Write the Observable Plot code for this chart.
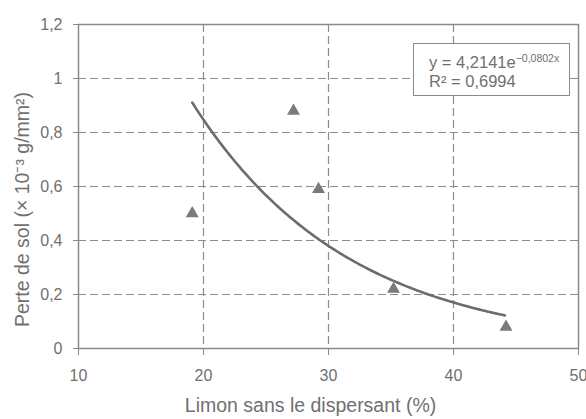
<!DOCTYPE html>
<html>
<head>
<meta charset="utf-8">
<script src="https://cdn.jsdelivr.net/npm/d3@7"></script>
<script src="https://cdn.jsdelivr.net/npm/@observablehq/plot@0.6"></script>
<style>
  html, body { margin: 0; padding: 0; background: #fff; }
  #chart { position: relative; width: 586px; height: 419px; font-family: "Liberation Sans", Arial, sans-serif; }
  #eq {
    position: absolute; left: 413px; top: 43px; width: 157px; height: 53px;
    border: 1.5px solid #8a8a8a; background: #fff; color: #707070;
    font-size: 16.5px; line-height: 19px; padding: 9px 0 0 15px; box-sizing: border-box;
  }
  #eq sup { font-size: 10.5px; vertical-align: 6px; line-height: 0; }
</style>
</head>
<body>
<div id="chart"></div>
<script>
// Silt without dispersant (%) and measured soil loss (×10⁻³ g/mm²)
const limon = [19.1, 27.2, 29.2, 35.2, 44.2];
const perte = [0.50, 0.88, 0.59, 0.22, 0.08];

// Exponential trend y = a·e^(b·x), as given by the equation label
const fitA = 4.2141;
const fitB = -0.0802;
const r2 = 0.6994;

const xTicks = [10, 20, 30, 40, 50];
const yTicks = [0, 0.2, 0.4, 0.6, 0.8, 1, 1.2];

const points = limon.map((x, i) => ({x, y: perte[i]}));
const xMin = d3.min(limon), xMax = d3.max(limon);
const trend = d3.range(xMin, xMax + 0.001, 0.2).map(x => ({x, y: fitA * Math.exp(fitB * x)}));

const comma = d => String(d).replace(".", ",");
const textGray = "#707070";

const chart = Plot.plot({
  width: 586,
  height: 419,
  marginLeft: 78,
  marginRight: 8,
  marginTop: 24,
  marginBottom: 71,
  style: {fontFamily: "Liberation Sans, Arial, sans-serif", fontSize: "16px", color: textGray, background: "#fff"},
  x: {domain: [10, 50]},
  y: {domain: [0, 1.2]},
  marks: [
    Plot.gridX(xTicks.slice(1, -1), {stroke: "#8c8c8c", strokeOpacity: 1, strokeWidth: 1.2, strokeDasharray: "8,4"}),
    Plot.gridY(yTicks.slice(1, -1), {stroke: "#8c8c8c", strokeOpacity: 1, strokeWidth: 1.2, strokeDasharray: "8,4"}),
    Plot.frame({stroke: "#8a8a8a", strokeWidth: 1.5}),
    Plot.axisX(xTicks, {tickSize: 7, tickPadding: 14, stroke: "#8a8a8a", fill: textGray, fontSize: 16, label: null, tickFormat: comma}),
    Plot.axisY(yTicks, {tickSize: 5, tickPadding: 11, stroke: "#8a8a8a", fill: textGray, fontSize: 16, label: null, tickFormat: comma}),
    Plot.text(["Limon sans le dispersant (%)"], {frameAnchor: "bottom", dy: 63, dx: -18, fill: textGray, fontSize: 19.5}),
    Plot.text(["Perte de sol (× 10⁻³ g/mm²)"], {frameAnchor: "left", textAnchor: "middle", dx: -56, dy: 23, rotate: -90, fill: textGray, fontSize: 19.5}),
    Plot.line(trend, {x: "x", y: "y", stroke: "#6c6c6c", strokeWidth: 2.6, curve: "natural"}),
    Plot.dot(points, {x: "x", y: "y", symbol: "triangle", r: 4.8, fill: "#7a7a7a", stroke: "none"})
  ]
});

const root = document.getElementById("chart");
root.appendChild(chart);

// Trend equation box
const eq = document.createElement("div");
eq.id = "eq";
eq.innerHTML = `y = ${comma(fitA)}e<sup>${comma(fitB).replace("-", "−")}x</sup><br>R² = ${comma(r2)}`;
root.appendChild(eq);
</script>
</body>
</html>
